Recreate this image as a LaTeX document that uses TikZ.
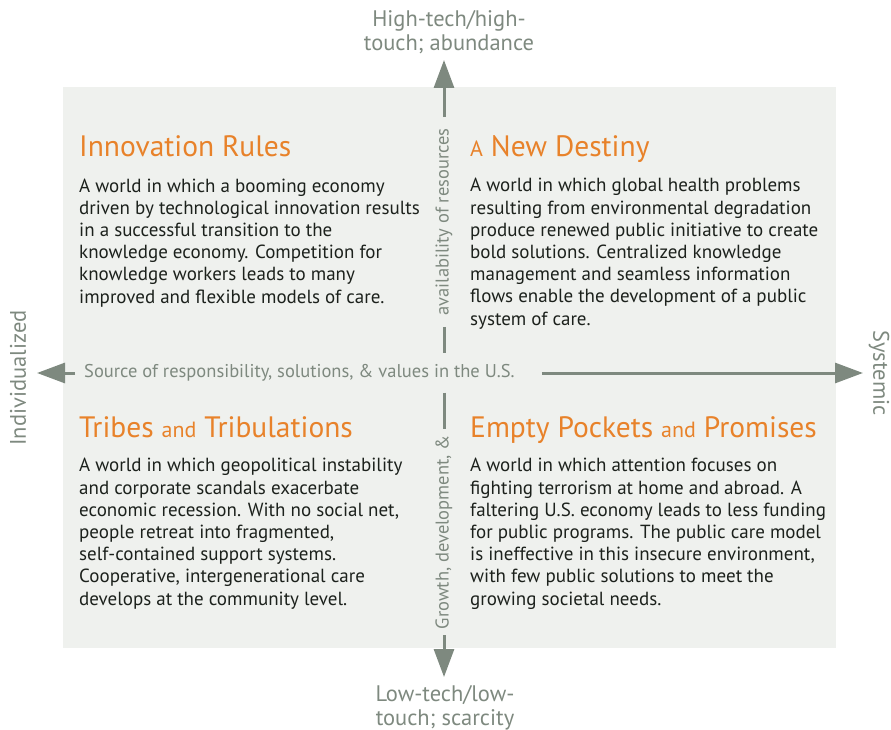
\documentclass[tikz,border=0pt]{standalone}
\usepackage{fontspec}
\setmainfont{PT Sans}
\usetikzlibrary{arrows.meta,positioning}
\definecolor{panel}{HTML}{EFF1EE}
\definecolor{axisgray}{HTML}{7E897F}
\definecolor{scenorange}{HTML}{E8822A}
\definecolor{bodyink}{HTML}{1C211C}
\newcommand{\scensmall}[1]{{\fontsize{22}{24}\selectfont #1}}
\tikzset{
  axisline/.style={draw=axisgray, line width=3pt},
  axistip/.style={-{Triangle[width=20pt,length=28pt]}},
  axislabel/.style={text=axisgray, font=\fontsize{18.5}{20}\selectfont, inner sep=0pt},
  polelabel/.style={text=axisgray, font=\fontsize{22.5}{24}\selectfont, align=center, inner sep=0pt},
  scentitle/.style={text=scenorange, font=\fontsize{29.5}{32}\selectfont, anchor=base west, inner sep=0pt},
  scenbody/.style={text=bodyink, font=\fontsize{19}{22.2}\selectfont, align=left, anchor=base west, inner sep=0pt}
}
\begin{document}
\begin{tikzpicture}[x=1pt,y=-1pt]

\useasboundingbox (0,0) rectangle (891,730);
\fill[panel] (63,87) rectangle (836,648);

% axis ends
\coordinate (n) at (444,60);
\coordinate (s) at (444,677);
\coordinate (w) at (37,373);
\coordinate (e) at (863,373);

% axis labels
\node[axislabel, inner xsep=9pt, inner ysep=11pt, anchor=west] (resp) at (75,373)
  {Source of responsibility, solutions, \& values in the U.S.};
\node[axislabel, inner xsep=11pt, rotate=90] (avail) at (444,222) {availability of resources};
\node[axislabel, inner xsep=6pt, rotate=90] (growth) at (444,532) {Growth, development, \&};

\draw[axisline,axistip] (resp.west) -- (w);
\draw[axisline,axistip,shorten <=18pt] (resp.east) -- (e);
\draw[axisline,axistip] (avail.east) -- (n);
\draw[axisline] (avail.west) -- (avail.west |- resp.north);
\draw[axisline] (growth.east |- resp.south) -- (growth.east);
\draw[axisline,axistip] (growth.west) -- (s);

% poles (base = last line)
\node[polelabel, anchor=base] (high) at (449,51) {High-tech/high-\\touch; abundance};
\node[polelabel, anchor=base] (low) at (445,725) {Low-tech/low-\\touch; scarcity};
\node[polelabel, rotate=90] (indiv) at (18,378) {Individualized};
\node[polelabel, rotate=-90] (syst) at (879,373) {Systemic};

% scenarios (body nodes sit on their last baseline)
\node[scentitle] (innov) at (79,157) {Innovation Rules};
\node[scenbody] (innovtxt) at (79,303) {A world in which a booming economy\\
  driven by technological innovation results\\
  in a successful transition to the\\
  knowledge economy. Competition for\\
  knowledge workers leads to many\\
  improved and flexible models of care.};

\node[scentitle] (destiny) at (470,157) {\scensmall{A} New Destiny};
\node[scenbody] (destinytxt) at (470,325) {A world in which global health problems\\
  resulting from environmental degradation\\
  produce renewed public initiative to create\\
  bold solutions. Centralized knowledge\\
  management and seamless information\\
  flows enable the development of a public\\
  system of care.};

\node[scentitle] (tribes) at (79,437) {Tribes \scensmall{and} Tribulations};
\node[scenbody] (tribestxt) at (79,605) {A world in which geopolitical instability\\
  and corporate scandals exacerbate\\
  economic recession. With no social net,\\
  people retreat into fragmented,\\
  self-contained support systems.\\
  Cooperative, intergenerational care\\
  develops at the community level.};

\node[scentitle] (empty) at (470,437) {Empty Pockets \scensmall{and} Promises};
\node[scenbody] (emptytxt) at (470,605) {A world in which attention focuses on\\
  fighting terrorism at home and abroad. A\\
  faltering U.S. economy leads to less funding\\
  for public programs. The public care model\\
  is ineffective in this insecure environment,\\
  with few public solutions to meet the\\
  growing societal needs.};

\end{tikzpicture}
\end{document}
